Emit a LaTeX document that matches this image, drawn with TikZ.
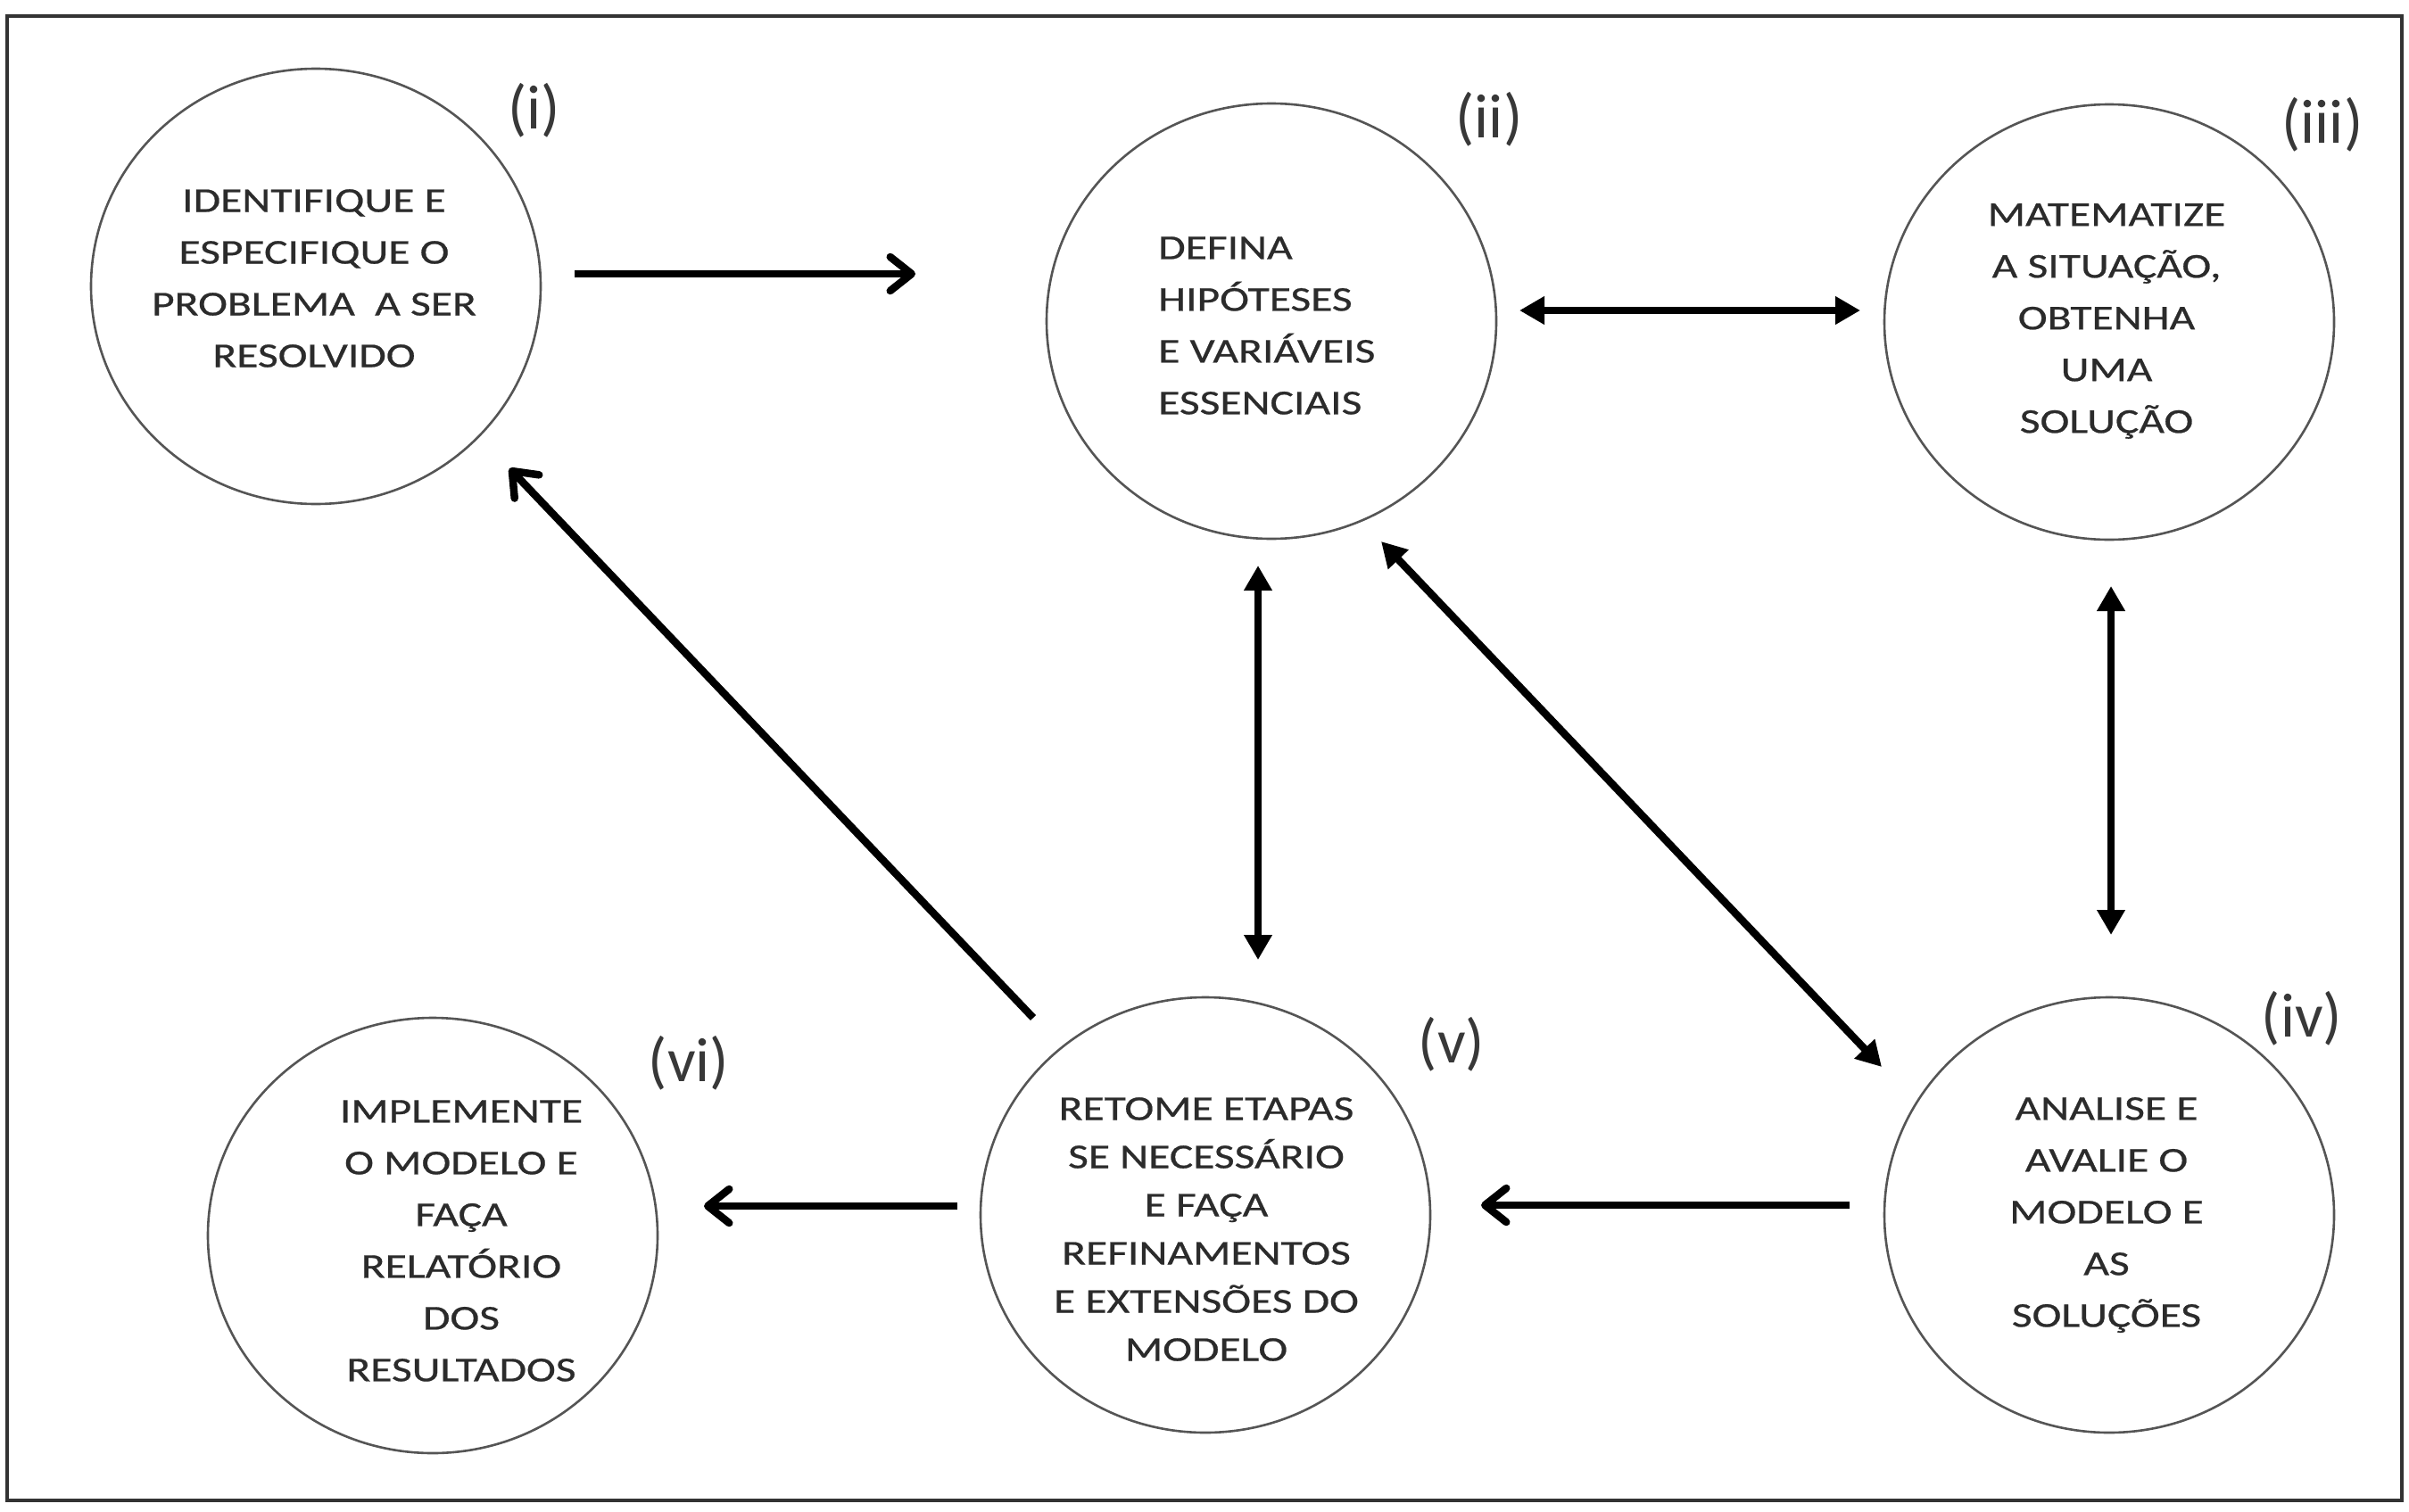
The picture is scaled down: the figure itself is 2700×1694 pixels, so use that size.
\documentclass[tikz,border=0pt]{standalone}
\usepackage{fontspec}
\setmainfont{Carlito}
\newfontfamily\bodyfont[FakeStretch=1.27,FakeBold=0.6]{Carlito}
\usetikzlibrary{arrows.meta,shapes.geometric}
\definecolor{txt}{HTML}{2B2B2B}
\definecolor{tagcol}{HTML}{383838}
\definecolor{ring}{HTML}{555555}
\definecolor{framecol}{HTML}{333333}
\begin{document}
\begin{tikzpicture}[x=1pt,y=-1pt,
  stage/.style={draw=ring, line width=2.6pt, ellipse, minimum width=504pt, minimum height=488pt, inner sep=0pt},
  words/.style={text=txt, font=\bodyfont\fontsize{39}{58}\selectfont, align=center, inner sep=0pt},
  tag/.style={text=tagcol, font=\fontsize{70}{84}\selectfont, inner sep=0pt},
  oneway/.style={line width=8.5pt, -{Straight Barb[length=24pt,width=38pt,round]}},
  twoway/.style={line width=8.5pt, {Triangle[length=28pt,width=30pt]}-{Triangle[length=28pt,width=30pt]}},
]
\useasboundingbox (0,0) rectangle (2700,1694);
\node[draw=framecol, line width=4pt, minimum width=2684pt, minimum height=1664pt, inner sep=0pt] (frame) at (1350,850) {};

% stages
\node[stage] (c1) at (354,321) {};
\node[stage] (c2) at (1425,360) {};
\node[stage] (c3) at (2364,361) {};
\node[stage] (c4) at (2364,1362) {};
\node[stage] (c5) at (1351,1362) {};
\node[stage] (c6) at (485,1385) {};

% texts
\node[words] (t1) at (352,312) {IDENTIFIQUE E\\ESPECIFIQUE O\\PROBLEMA\ \ A SER\\RESOLVIDO};
\node[words, align=left, anchor=west] (t2) at (1298,365) {DEFINA\\HIPÓTESES\\E VARIÁVEIS\\ESSENCIAIS};
\node[words] (t3) at (2361,360) {MATEMATIZE\\A SITUAÇÃO,\\OBTENHA\\UMA\\SOLUÇÃO};
\node[words] (t4) at (2361,1362) {ANALISE E\\AVALIE O\\MODELO E\\AS\\SOLUÇÕES};
\node[words, font=\bodyfont\fontsize{39}{54}\selectfont] (t5) at (1352,1378) {RETOME ETAPAS\\SE NECESSÁRIO\\E FAÇA\\REFINAMENTOS\\E EXTENSÕES DO\\MODELO};
\node[words] (t6) at (517,1391) {IMPLEMENTE\\O MODELO E\\FAÇA\\RELATÓRIO\\DOS\\RESULTADOS};

% labels
\node[tag] (l1) at (599,124) {(i)};
\node[tag] (l2) at (1669,134) {(ii)};
\node[tag] (l3) at (2603,140) {(iii)};
\node[tag] (l4) at (2580,1142) {(iv)};
\node[tag] (l5) at (1627,1171) {(v)};
\node[tag] (l6) at (772,1192) {(vi)};

% connector end points
\coordinate (a1s) at (644,307);   \coordinate (a1e) at (1026,307);
\coordinate (a2s) at (1703,348);  \coordinate (a2e) at (2085,348);
\coordinate (a3s) at (2366,657);  \coordinate (a3e) at (2366,1048);
\coordinate (a4s) at (1410,634);  \coordinate (a4e) at (1410,1076);
\coordinate (a5s) at (1548,607);  \coordinate (a5e) at (2109,1196);
\coordinate (a6s) at (1158,1141); \coordinate (a6e) at (571,525);
\coordinate (a7s) at (2073,1351); \coordinate (a7e) at (1660,1351);
\coordinate (a8s) at (1073,1352); \coordinate (a8e) at (789,1352);

\draw[oneway] (a1s) -- (a1e);
\draw[twoway] (a2s) -- (a2e);
\draw[twoway] (a3s) -- (a3e);
\draw[twoway] (a4s) -- (a4e);
\draw[twoway] (a5s) -- (a5e);
\draw[oneway] (a6s) -- (a6e);
\draw[oneway] (a7s) -- (a7e);
\draw[oneway] (a8s) -- (a8e);
\end{tikzpicture}
\end{document}
